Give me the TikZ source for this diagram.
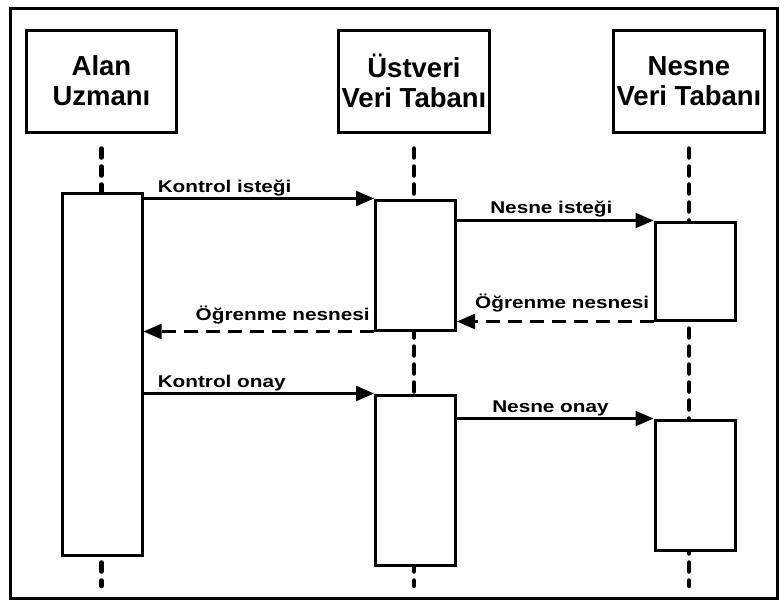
\documentclass[tikz,border=0pt]{standalone}
\usepackage{fontspec}
\setmainfont{Liberation Sans}
\usetikzlibrary{arrows.meta}
\newcommand{\wlbl}[1]{\scalebox{1.22}[1]{#1}}

\begin{document}
\begin{tikzpicture}[x=1pt,y=-1pt,
  head/.style={draw,line width=3pt,minimum width=150pt,minimum height=102pt,align=center,font=\fontsize{27.5}{30}\selectfont\bfseries},
  act/.style={draw,fill=white,line width=3pt,minimum width=80pt,inner sep=0pt},
  life/.style={line width=4.5pt,line cap=round,dash pattern=on 9pt off 9pt},
  msg/.style={line width=2.5pt,-{Triangle[length=18pt,width=15pt]}},
  ret/.style={msg,dash pattern=on 14pt off 8pt},
  lbl/.style={font=\fontsize{17}{19}\selectfont\bfseries,inner sep=0pt}]
\useasboundingbox (0,0) rectangle (780,605);
\draw[line width=3pt] (10,8) rectangle (777,598);
% heads
\node[head] (alan) at (101.5,81) {Alan\\Uzmanı};
\node[head] (ust) at (414,81) {Üstveri\\Veri Tabanı};
\node[head] (nesne) at (689,81) {Nesne\\Veri Tabanı};
% lifelines
\coordinate (alanend) at (101.5,586);
\coordinate (ustend) at (414,586);
\coordinate (nesneend) at (689,586);
\draw[life] ([yshift=-15pt]alan.south) -- (alanend);
\draw[life] ([yshift=-15pt]ust.south) -- (ustend);
\draw[life] ([yshift=-15pt]nesne.south) -- (nesneend);
% activations
\node[act,minimum height=362pt] (a1) at (102,374) {};
\node[act,minimum height=130pt] (u1) at (415.5,265) {};
\node[act,minimum height=98pt] (n1) at (695,271) {};
\node[act,minimum height=170pt] (u2) at (415.5,480) {};
\node[act,minimum height=130pt] (n2) at (695,485) {};
% messages
\draw[msg] (u1.north west -| a1.east) -- (u1.north west)
  node[lbl,pos=0,anchor=base west,xshift=13pt,yshift=6pt]{\wlbl{Kontrol isteği}};
\draw[msg] (n1.north west -| u1.east) -- (n1.north west)
  node[lbl,pos=0,anchor=base west,xshift=32pt,yshift=7pt]{\wlbl{Nesne isteği}};
\draw[ret] (n1.south west) -- (n1.south west -| u1.east)
  node[lbl,pos=0,anchor=base east,xshift=-3pt,yshift=13pt]{\wlbl{Öğrenme nesnesi}};
\draw[ret] (u1.south west) -- (u1.south west -| a1.east)
  node[lbl,pos=0,anchor=base east,xshift=-3pt,yshift=11pt]{\wlbl{Öğrenme nesnesi}};
\draw[msg] (u2.north west -| a1.east) -- (u2.north west)
  node[lbl,pos=0,anchor=base west,xshift=13pt,yshift=6pt]{\wlbl{Kontrol onay}};
\draw[msg] (n2.north west -| u2.east) -- (n2.north west)
  node[lbl,pos=0,anchor=base west,xshift=34pt,yshift=6pt]{\wlbl{Nesne onay}};
\end{tikzpicture}
\end{document}
